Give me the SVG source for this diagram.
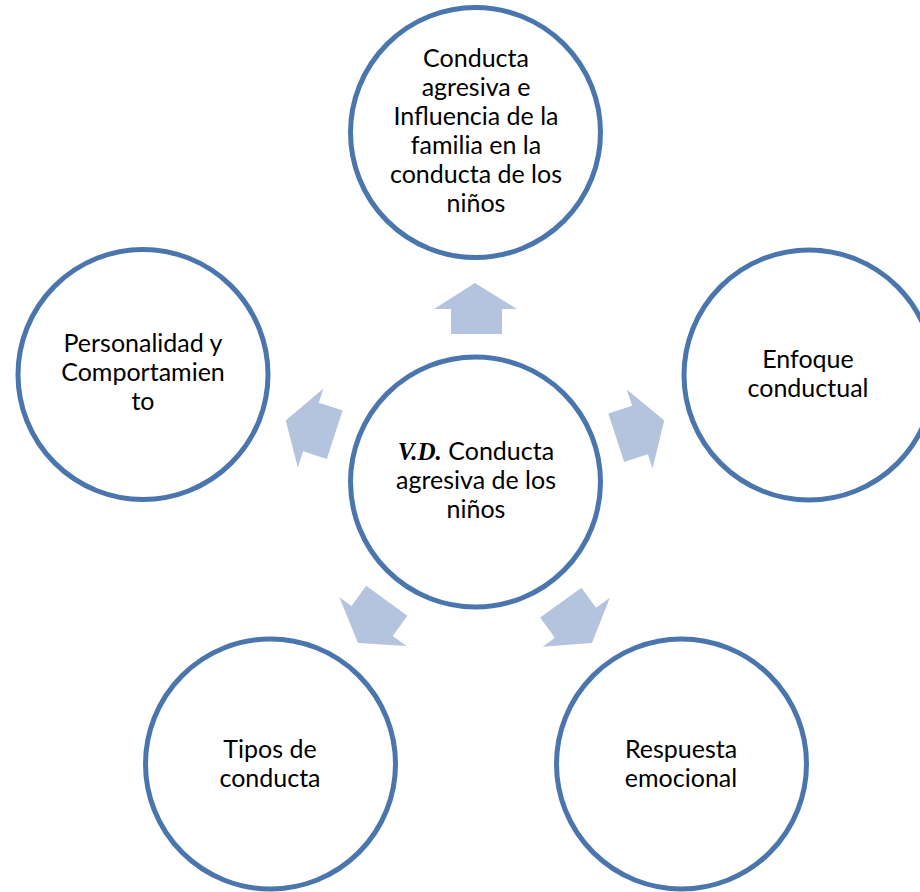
<svg xmlns="http://www.w3.org/2000/svg" width="920" height="892" viewBox="0 0 920 892">
<style>
.node circle{fill:#ffffff;stroke:#4a76ad;stroke-width:5}
.node text{font-family:Lato,"Noto Sans",sans-serif;font-size:25px;fill:#000000;text-anchor:middle}
.vd{font-family:"Liberation Serif",serif;font-weight:bold;font-style:italic}
.arrow{fill:#b4c3de}
</style>
<defs>
<path id="arr" class="arrow" d="M475,283 L517,309 L502,309 L502,334 L451,334 L451,309 L434,309 Z"/>
</defs>
<rect width="920" height="892" fill="#ffffff"/>
<g id="connectors">
<use href="#arr"/>
<use href="#arr" transform="rotate(72 475 482)"/>
<use href="#arr" transform="rotate(144 475 482)"/>
<use href="#arr" transform="rotate(-144 475 482)"/>
<use href="#arr" transform="rotate(-72 475 482)"/>
</g>
<g id="center" class="node">
<circle cx="475.5" cy="482" r="125"/>
<text x="476" y="460"><tspan class="vd">V.D.</tspan> Conducta</text>
<text x="476" y="489">agresiva de los</text>
<text x="476" y="518">niños</text>
</g>
<g id="top" class="node">
<circle cx="475.5" cy="132.5" r="125"/>
<text x="476" y="67">Conducta</text>
<text x="476" y="96">agresiva e</text>
<text x="476" y="125">Influencia de la</text>
<text x="476" y="154">familia en la</text>
<text x="476" y="183">conducta de los</text>
<text x="476" y="212">niños</text>
</g>
<g id="right" class="node">
<circle cx="809" cy="375" r="125"/>
<text x="808" y="368">Enfoque</text>
<text x="808" y="397">conductual</text>
</g>
<g id="bottom-right" class="node">
<circle cx="681.5" cy="764" r="125"/>
<text x="681" y="758">Respuesta</text>
<text x="681" y="787">emocional</text>
</g>
<g id="bottom-left" class="node">
<circle cx="270.5" cy="764" r="125"/>
<text x="270" y="758">Tipos de</text>
<text x="270" y="787">conducta</text>
</g>
<g id="left" class="node">
<circle cx="143" cy="374.5" r="125"/>
<text x="143" y="352">Personalidad y</text>
<text x="143" y="381">Comportamien</text>
<text x="143" y="410">to</text>
</g>
</svg>
